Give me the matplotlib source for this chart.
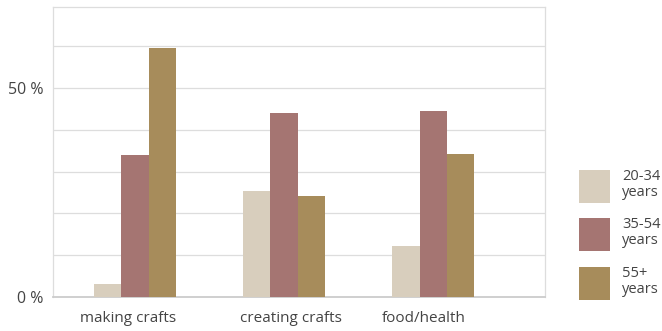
import matplotlib
matplotlib.use("Agg")
import matplotlib.pyplot as plt
from matplotlib.patches import Rectangle
import numpy as np

categories = ["making crafts", "creating crafts", "food/health"]
series_names = ["20-34\nyears", "35-54\nyears", "55+\nyears"]
v_20_34 = [3.1, 25.4, 12.2]
v_35_54 = [34.0, 44.0, 44.5]
v_55p = [59.6, 24.2, 34.2]
colors = ["#d8cebd", "#a57572", "#a78c5b"]

plt.rcParams['font.family'] = ['Open Sans', 'DejaVu Sans']

W, H = 662, 331
fig = plt.figure(figsize=(W/100, H/100), dpi=100)
ax = fig.add_axes([53/W, 1-297/H, (545-53)/W, (297-7)/H])

x = np.arange(len(categories))
w = 0.183
for i, vals in enumerate([v_20_34, v_35_54, v_55p]):
    ax.bar(x + (i-1)*w, vals, width=w, color=colors[i], zorder=3, linewidth=0)

ax.set_xlim(-0.55, 2.75)
ax.set_ylim(0, 69.4)
ax.set_yticks(np.arange(0, 70, 10))
ax.set_yticklabels(["0 %" if t == 0 else ("50 %" if t == 50 else "") for t in range(0, 70, 10)])
ax.tick_params(axis='y', length=0, pad=7, labelsize=11.5, labelcolor="#444444")
ax.set_xticks([-0.047, 1.047, 1.94])
ax.set_xticklabels(categories)
ax.tick_params(axis='x', length=0, pad=10, labelsize=11, labelcolor="#444444")
ax.grid(axis='y', color="#dddddd", linewidth=0.9, zorder=0)
for s in ["top", "left", "right"]:
    ax.spines[s].set_color("#dddddd")
    ax.spines[s].set_linewidth(0.9)
ax.spines["bottom"].set_color("#cccccc")
ax.spines["bottom"].set_linewidth(1.3)

# legend
tops = [170, 218, 267]
for name, c, t in zip(series_names, colors, tops):
    fig.add_artist(Rectangle((579/W, 1-(t+33)/H), 31/W, 33/H,
                             transform=fig.transFigure, facecolor=c, edgecolor='none'))
    fig.text(622/W, 1-(t-1)/H, name, ha='left', va='top', fontsize=10.5,
             color="#444444", linespacing=1.1)

fig.savefig("out.png", dpi=100)
